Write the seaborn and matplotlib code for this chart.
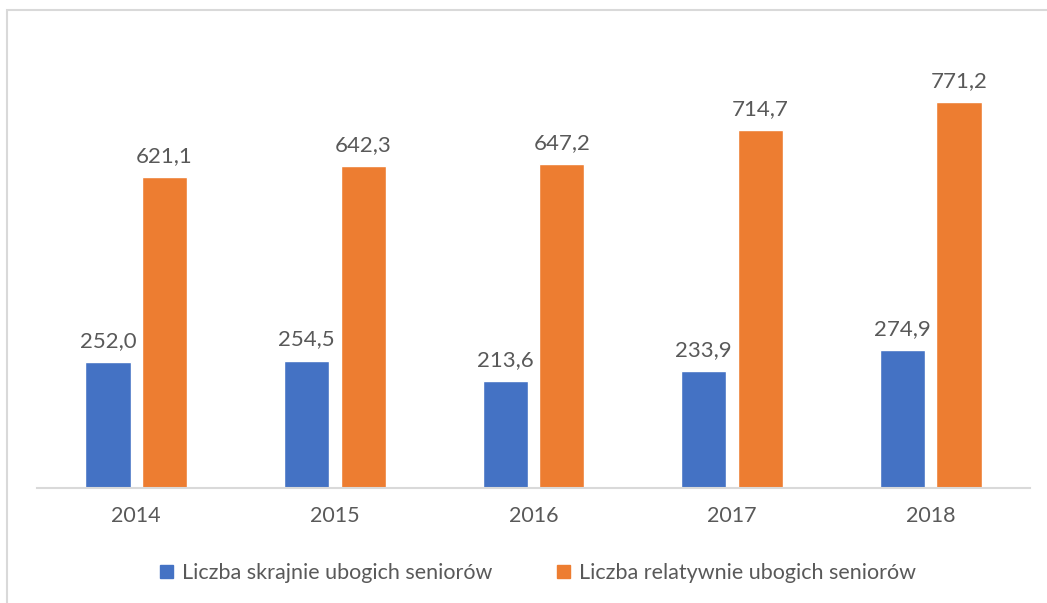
import numpy as np
import pandas as pd
import matplotlib
matplotlib.use("Agg")
import matplotlib.pyplot as plt
import seaborn as sns

# data
years = ["2014", "2015", "2016", "2017", "2018"]
skrajnie = [252.0, 254.5, 213.6, 233.9, 274.9]
relatywnie = [621.1, 642.3, 647.2, 714.7, 771.2]
series_names = ["Liczba skrajnie ubogich seniorów", "Liczba relatywnie ubogich seniorów"]
colors = ["#4472C4", "#ED7D31"]

df = pd.DataFrame({
    "rok": years * 2,
    "wartosc": skrajnie + relatywnie,
    "seria": [series_names[0]] * len(years) + [series_names[1]] * len(years),
})

sns.set_theme(style="white")
plt.rcParams["font.family"] = ["Lato", "DejaVu Sans"]
text_col = "#595959"

fig = plt.figure(figsize=(10.47, 6.03), dpi=100)
ax = fig.add_axes([37 / 1047, 115 / 603, 993 / 1047, 448 / 603])

sns.barplot(data=df, x="rok", y="wartosc", hue="seria", palette=colors,
            width=0.57, gap=0.2, ax=ax, saturation=1, legend=True)

for cont in ax.containers:
    ax.bar_label(cont, labels=[f"{v:.1f}".replace(".", ",") for v in cont.datavalues],
                 padding=8, fontsize=16, color=text_col)

ax.set_xlim(-0.5, 4.5)
ax.set_ylim(0, 895)
ax.set_xlabel("")
ax.set_ylabel("")
ax.set_yticks([])
for s in ["top", "right", "left"]:
    ax.spines[s].set_visible(False)
ax.spines["bottom"].set_color("#d9d9d9")
ax.spines["bottom"].set_linewidth(1.5)
ax.tick_params(axis="x", length=0, pad=13, labelsize=15.5, labelcolor=text_col)

ax.legend_.remove()
handles = [plt.Rectangle((0, 0), 1, 1, color=c) for c in colors]
fig.legend(handles, series_names, loc="center", bbox_to_anchor=(538 / 1047, 1 - 573 / 603),
           ncol=2, frameon=False, fontsize=15.5, labelcolor=text_col,
           handlelength=0.6, handleheight=0.6, handletextpad=0.4, columnspacing=3.0)

# chart area border (cut off at right and bottom)
fig.add_artist(plt.Rectangle((7 / 1047, -0.5), 2, 0.5 + 1 - 10 / 603, transform=fig.transFigure,
                             fill=False, ec="#d9d9d9", lw=1.5))

fig.savefig("out.png", dpi=100)
